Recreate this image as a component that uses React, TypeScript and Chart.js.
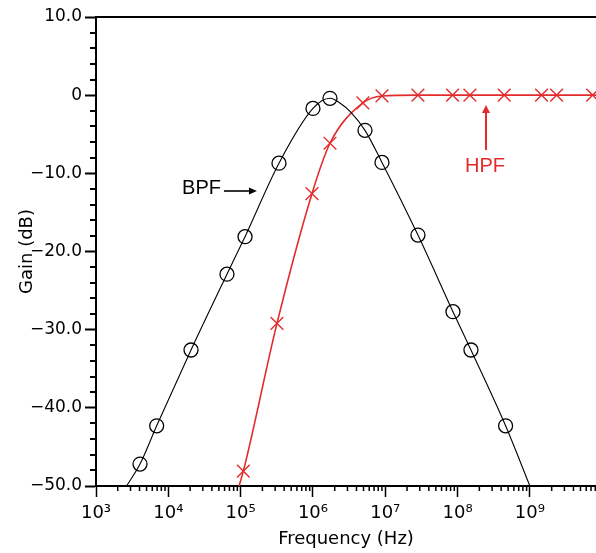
import React, { useEffect, useRef } from 'react';
import { Chart, registerables } from 'chart.js';

Chart.register(...registerables);

// ---- Data ----
const bpfLineFreq = [2.65e3, 4.06e3, 6.9e3, 2.06e4, 6.47e4, 1.15e5, 3.39e5, 1.0e6, 1.72e6, 2.36e6, 3.35e6, 5.24e6, 9.0e6, 2.83e7, 8.63e7, 1.53e8, 4.61e8, 1.0e9];
const bpfLineGain = [-50, -47.2, -42.3, -32.6, -22.9, -18.1, -8.7, -1.7, -0.4, -1.0, -2.2, -4.5, -8.6, -17.9, -27.7, -32.6, -42.3, -50];
const bpfMarkFreq = [4.06e3, 6.9e3, 2.06e4, 6.47e4, 1.15e5, 3.39e5, 1.0e6, 1.72e6, 5.24e6, 9.0e6, 2.83e7, 8.63e7, 1.53e8, 4.61e8];
const bpfMarkGain = [-47.2, -42.3, -32.6, -22.9, -18.1, -8.7, -1.7, -0.4, -4.5, -8.6, -17.9, -27.7, -32.6, -42.3];

const hpfLineFreq = [9.5e4, 1.09e5, 3.18e5, 9.69e5, 1.72e6, 4.9e6, 9.0e6, 2.83e7, 8.53e7, 1.48e8, 4.42e8, 1.45e9, 2.34e9, 7.37e9, 8.2e9];
const hpfLineGain = [-50, -48.1, -29.2, -12.6, -6.15, -1.0, -0.1, 0, 0, 0, 0, 0, 0, 0, 0];
const hpfMarkFreq = [1.09e5, 3.18e5, 9.69e5, 1.72e6, 4.9e6, 9.0e6, 2.83e7, 8.53e7, 1.48e8, 4.42e8, 1.45e9, 2.34e9, 7.37e9];
const hpfMarkGain = [-48.1, -29.2, -12.6, -6.15, -1.0, -0.1, 0, 0, 0, 0, 0, 0, 0];

const X_MIN = 1e3;
const X_MAX = 8.2e9;
const Y_MIN = -50;
const Y_MAX = 10;
const xDecades = [3, 4, 5, 6, 7, 8, 9];
const yMajorTicks = [-50, -40, -30, -20, -10, 0, 10];
const yMinorStep = 2;

const SUP: Record<number, string> = { 3: '³', 4: '⁴', 5: '⁵', 6: '⁶', 7: '⁷', 8: '⁸', 9: '⁹' };
const RED = '#e42b2b';
const TICK_FONT = '"DejaVu Sans", "Liberation Sans", sans-serif';
const LABEL_FONT = '"Liberation Sans", Arial, sans-serif';

const xTickValues: number[] = [];
for (const k of xDecades) {
  for (let m = 1; m <= 9; m++) {
    const v = m * Math.pow(10, k);
    if (v <= X_MAX) xTickValues.push(v);
  }
}
const yTickValues: number[] = [];
for (let v = Y_MIN; v <= Y_MAX; v += yMinorStep) yTickValues.push(v);

function isPow10(v: number | undefined): boolean {
  if (v === undefined || v <= 0) return false;
  const e = Math.log10(v);
  return Math.abs(e - Math.round(e)) < 1e-9;
}
function isYMajor(v: number | undefined): boolean {
  return v !== undefined && yMajorTicks.includes(v);
}
function fmtY(v: number): string {
  if (v === 0) return '0';
  return (v < 0 ? '\u2212' : '') + Math.abs(v).toFixed(1);
}
const zip = (xs: number[], ys: number[]) => xs.map((x, i) => ({ x, y: ys[i] }));

function drawArrow(ctx: CanvasRenderingContext2D, x0: number, y0: number, x1: number, y1: number, color: string, lw: number, headLen: number, headHalf: number) {
  const ang = Math.atan2(y1 - y0, x1 - x0);
  const bx = x1 - headLen * Math.cos(ang);
  const by = y1 - headLen * Math.sin(ang);
  ctx.save();
  ctx.strokeStyle = color;
  ctx.fillStyle = color;
  ctx.lineWidth = lw;
  ctx.beginPath();
  ctx.moveTo(x0, y0);
  ctx.lineTo(bx, by);
  ctx.stroke();
  ctx.beginPath();
  ctx.moveTo(x1, y1);
  ctx.lineTo(bx + headHalf * Math.sin(ang), by - headHalf * Math.cos(ang));
  ctx.lineTo(bx - headHalf * Math.sin(ang), by + headHalf * Math.cos(ang));
  ctx.closePath();
  ctx.fill();
  ctx.restore();
}

const frameAndMinorTicks = {
  id: 'frameAndMinorTicks',
  afterDraw(chart: any) {
    const { ctx, chartArea, scales } = chart;
    const x = scales.x;
    const y = scales.y;
    ctx.save();
    ctx.strokeStyle = '#000';
    ctx.lineWidth = 1.5;
    ctx.beginPath();
    for (const t of x.ticks) {
      if (isPow10(t.value)) continue;
      const px = x.getPixelForValue(t.value);
      ctx.moveTo(px, chartArea.bottom);
      ctx.lineTo(px, chartArea.bottom + 5);
    }
    ctx.stroke();
    ctx.lineWidth = 2;
    ctx.beginPath();
    for (const t of y.ticks) {
      if (isYMajor(t.value)) continue;
      const py = Math.round(y.getPixelForValue(t.value));
      ctx.moveTo(chartArea.left - 6, py);
      ctx.lineTo(chartArea.left, py);
    }
    ctx.stroke();
    ctx.beginPath();
    ctx.moveTo(chartArea.left, Math.round(chartArea.top));
    ctx.lineTo(chartArea.right, Math.round(chartArea.top));
    ctx.stroke();
    ctx.restore();
  },
};

const annotations = {
  id: 'annotations',
  afterDatasetsDraw(chart: any) {
    const { ctx, scales } = chart;
    const x = scales.x;
    const y = scales.y;
    ctx.save();
    ctx.font = `20px ${LABEL_FONT}`;
    ctx.textBaseline = 'middle';
    ctx.fillStyle = '#000';
    ctx.textAlign = 'right';
    ctx.fillText('BPF', x.getPixelForValue(5.35e4), y.getPixelForValue(-12.0));
    drawArrow(ctx, x.getPixelForValue(5.89e4), y.getPixelForValue(-12.26), x.getPixelForValue(1.68e5), y.getPixelForValue(-12.26), '#000', 1.6, 8, 3.5);
    ctx.fillStyle = RED;
    ctx.textAlign = 'center';
    ctx.fillText('HPF', x.getPixelForValue(2.39e8), y.getPixelForValue(-9.06));
    drawArrow(ctx, x.getPixelForValue(2.47e8), y.getPixelForValue(-7.01), x.getPixelForValue(2.47e8), y.getPixelForValue(-1.26), RED, 2, 8, 4);
    ctx.restore();
  },
};

export default function App() {
  const ref = useRef<HTMLCanvasElement | null>(null);
  useEffect(() => {
    if (!ref.current) return;
    const chart = new Chart(ref.current, {
      type: 'line',
      data: {
        datasets: [
          {
            label: 'BPF',
            data: zip(bpfLineFreq, bpfLineGain),
            borderColor: '#000',
            borderWidth: 1.1,
            pointRadius: 0,
            cubicInterpolationMode: 'monotone',
            fill: false,
          },
          {
            label: 'BPF markers',
            data: zip(bpfMarkFreq, bpfMarkGain),
            showLine: false,
            pointStyle: 'circle',
            pointRadius: 7,
            pointBorderWidth: 1.3,
            pointBorderColor: '#000',
            pointBackgroundColor: 'rgba(0,0,0,0)',
          },
          {
            label: 'HPF',
            data: zip(hpfLineFreq, hpfLineGain),
            borderColor: RED,
            borderWidth: 1.6,
            pointRadius: 0,
            cubicInterpolationMode: 'monotone',
            fill: false,
          },
          {
            label: 'HPF markers',
            data: zip(hpfMarkFreq, hpfMarkGain),
            showLine: false,
            pointStyle: 'crossRot',
            pointRadius: 9,
            pointBorderWidth: 1.4,
            pointBorderColor: RED,
            pointBackgroundColor: RED,
          },
        ],
      },
      options: {
        animation: false,
        responsive: false,
        layout: { autoPadding: false, padding: { top: 17, left: 0, right: 0, bottom: 0 } },
        plugins: { legend: { display: false }, tooltip: { enabled: false } },
        scales: {
          x: {
            type: 'logarithmic',
            min: X_MIN,
            max: X_MAX,
            position: 'bottom',
            afterBuildTicks: (s: any) => {
              s.ticks = xTickValues.map((v) => ({ value: v }));
            },
            afterFit: (s: any) => {
              s.height = 67;
              s.paddingRight = 0;
            },
            ticks: {
              autoSkip: false,
              maxRotation: 0,
              minRotation: 0,
              padding: 6,
              color: '#000',
              font: { family: TICK_FONT, size: 18 },
              callback: (value: any) => {
                const v = Number(value);
                if (!isPow10(v)) return '';
                const e = Math.round(Math.log10(v));
                return '10' + (SUP[e] || '');
              },
            },
            grid: {
              display: true,
              drawOnChartArea: false,
              drawTicks: true,
              tickLength: 11,
              tickWidth: 1.5,
              tickColor: (c: any) => (isPow10(c.tick?.value) ? '#000' : 'rgba(0,0,0,0)'),
            },
            border: { display: true, color: '#000', width: 2 },
            title: {
              display: true,
              text: 'Frequency (Hz)',
              color: '#000',
              font: { family: TICK_FONT, size: 18 },
              padding: { top: 0, bottom: 3 },
            },
          },
          y: {
            type: 'linear',
            min: Y_MIN,
            max: Y_MAX,
            afterBuildTicks: (s: any) => {
              s.ticks = yTickValues.map((v) => ({ value: v }));
            },
            afterFit: (s: any) => {
              s.width = 96;
            },
            ticks: {
              autoSkip: false,
              padding: 3,
              color: '#000',
              font: { family: TICK_FONT, size: 17 },
              callback: (value: any) => {
                const v = Number(value);
                return isYMajor(v) ? fmtY(v) : '';
              },
            },
            grid: {
              display: true,
              drawOnChartArea: false,
              drawTicks: true,
              tickLength: 11,
              tickWidth: 2,
              tickColor: (c: any) => (isYMajor(c.tick?.value) ? '#000' : 'rgba(0,0,0,0)'),
            },
            border: { display: true, color: '#000', width: 2 },
            title: {
              display: true,
              text: 'Gain (dB)',
              color: '#000',
              font: { family: TICK_FONT, size: 18 },
              padding: { top: 17, bottom: 0 },
            },
          },
        },
      } as any,
      plugins: [frameAndMinorTicks, annotations],
    });
    return () => chart.destroy();
  }, []);

  return (
    <div style={{ position: 'fixed', left: 0, top: 0, width: 596, height: 553, background: '#fff' }}>
      <canvas ref={ref} width={596} height={553} style={{ display: 'block' }} />
    </div>
  );
}
